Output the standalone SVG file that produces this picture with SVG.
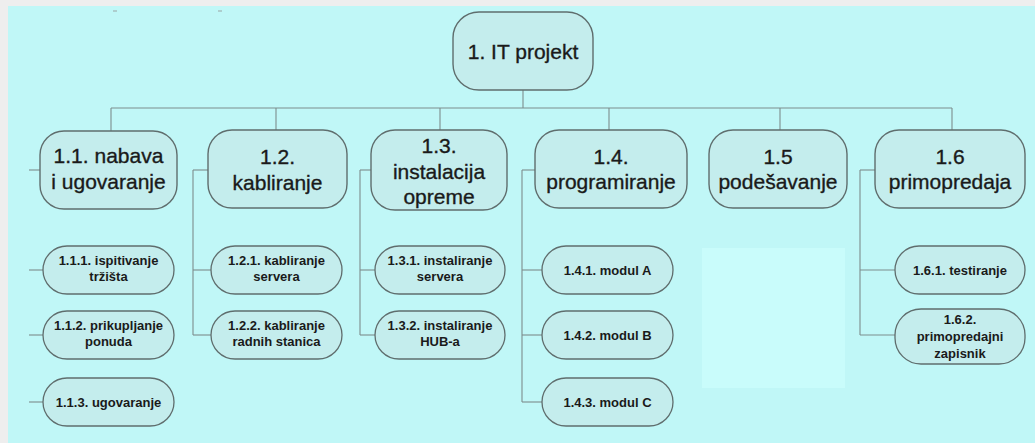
<svg xmlns="http://www.w3.org/2000/svg" width="1035" height="443" viewBox="0 0 1035 443">
<style>
.bg{fill:#eeeeee}
.panel{fill:#c0f7f7}
.patch{fill:#c9fcfb}
.n1 rect{fill:#c4eded;stroke:#5f6d6d;stroke-width:1.4}
.n2 rect{fill:#c4eded;stroke:#5f6d6d;stroke-width:1.3}
.t1{font-family:"Liberation Sans",Arial,sans-serif;font-size:21px;fill:#1a1a1a;stroke:#1a1a1a;stroke-width:0.35;text-anchor:middle}
.t2{font-family:"Liberation Sans",Arial,sans-serif;font-size:13px;font-weight:bold;fill:#1a1a1a;text-anchor:middle}
.conn line{stroke:#7d8d8d;stroke-width:1.1;fill:none}
</style>
<rect class="bg" x="0" y="0" width="1035" height="443"/>
<rect class="panel" x="8" y="6" width="1027" height="437"/>
<rect class="patch" x="702" y="248" width="143" height="140"/>
<line x1="113" y1="11" x2="117" y2="11" stroke="#9aa5a5" stroke-width="1"/>
<line x1="218" y1="11" x2="222" y2="11" stroke="#9aa5a5" stroke-width="1"/>

<g class="conn" id="connectors">
<line x1="523" y1="90" x2="523" y2="108"/>
<line x1="111" y1="108" x2="952" y2="108"/>
<line x1="111" y1="108" x2="111" y2="131"/>
<line x1="276" y1="108" x2="276" y2="130"/>
<line x1="440" y1="108" x2="440" y2="130"/>
<line x1="609" y1="108" x2="609" y2="130"/>
<line x1="780" y1="108" x2="780" y2="130"/>
<line x1="952" y1="108" x2="952" y2="130"/>
<line x1="29" y1="170" x2="40" y2="170"/>
<line x1="29" y1="270" x2="43" y2="270"/>
<line x1="29" y1="335" x2="43" y2="335"/>
<line x1="29" y1="402" x2="43" y2="402"/>
<line x1="193" y1="170" x2="208" y2="170"/>
<line x1="193" y1="170" x2="193" y2="335"/>
<line x1="193" y1="270" x2="211" y2="270"/>
<line x1="193" y1="335" x2="211" y2="335"/>
<line x1="360" y1="170" x2="371" y2="170"/>
<line x1="360" y1="170" x2="360" y2="335"/>
<line x1="360" y1="270" x2="375" y2="270"/>
<line x1="360" y1="335" x2="375" y2="335"/>
<line x1="522" y1="170" x2="535" y2="170"/>
<line x1="522" y1="170" x2="522" y2="402"/>
<line x1="522" y1="270" x2="542" y2="270"/>
<line x1="522" y1="335" x2="542" y2="335"/>
<line x1="522" y1="402" x2="542" y2="402"/>
<line x1="860" y1="170" x2="875" y2="170"/>
<line x1="860" y1="170" x2="860" y2="335"/>
<line x1="860" y1="270" x2="895" y2="270"/>
<line x1="860" y1="335" x2="895" y2="335"/>
</g>

<g class="n1" id="n1"><rect x="453" y="12" width="140" height="78" rx="26"/><text class="t1" x="523" y="59">1. IT projekt</text></g>

<g class="n1" id="n1-1"><rect x="40" y="131" width="137" height="78" rx="24"/><text class="t1" x="108.5" y="163">1.1. nabava</text><text class="t1" x="108.5" y="189">i ugovaranje</text></g>
<g class="n1" id="n1-2"><rect x="208" y="130" width="139" height="78" rx="24"/><text class="t1" x="277.5" y="164">1.2.</text><text class="t1" x="277.5" y="190">kabliranje</text></g>
<g class="n1" id="n1-3"><rect x="371" y="130" width="136" height="80" rx="24"/><text class="t1" x="439" y="153">1.3.</text><text class="t1" x="439" y="179">instalacija</text><text class="t1" x="439" y="204">opreme</text></g>
<g class="n1" id="n1-4"><rect x="535" y="130" width="152" height="78" rx="24"/><text class="t1" x="611" y="164">1.4.</text><text class="t1" x="611" y="189">programiranje</text></g>
<g class="n1" id="n1-5"><rect x="709" y="130" width="138" height="78" rx="24"/><text class="t1" x="778" y="164">1.5</text><text class="t1" x="778" y="189">podešavanje</text></g>
<g class="n1" id="n1-6"><rect x="875" y="130" width="150" height="78" rx="24"/><text class="t1" x="950" y="164">1.6</text><text class="t1" x="950" y="189">primopredaja</text></g>

<g class="n2" id="n1-1-1"><rect x="43" y="246" width="131" height="48" rx="24"/><text class="t2" x="108.5" y="265">1.1.1. ispitivanje</text><text class="t2" x="108.5" y="281">tržišta</text></g>
<g class="n2" id="n1-1-2"><rect x="43" y="311" width="131" height="48" rx="24"/><text class="t2" x="108.5" y="330">1.1.2. prikupljanje</text><text class="t2" x="108.5" y="346">ponuda</text></g>
<g class="n2" id="n1-1-3"><rect x="43" y="378" width="131" height="48" rx="24"/><text class="t2" x="108.5" y="406.5">1.1.3. ugovaranje</text></g>

<g class="n2" id="n1-2-1"><rect x="211" y="246" width="131" height="48" rx="24"/><text class="t2" x="276.5" y="265">1.2.1. kabliranje</text><text class="t2" x="276.5" y="281">servera</text></g>
<g class="n2" id="n1-2-2"><rect x="211" y="311" width="131" height="48" rx="24"/><text class="t2" x="276.5" y="330">1.2.2. kabliranje</text><text class="t2" x="276.5" y="346">radnih stanica</text></g>

<g class="n2" id="n1-3-1"><rect x="375" y="246" width="130" height="48" rx="24"/><text class="t2" x="440" y="265">1.3.1. instaliranje</text><text class="t2" x="440" y="281">servera</text></g>
<g class="n2" id="n1-3-2"><rect x="375" y="311" width="130" height="48" rx="24"/><text class="t2" x="440" y="330">1.3.2. instaliranje</text><text class="t2" x="440" y="346">HUB-a</text></g>

<g class="n2" id="n1-4-1"><rect x="542" y="246" width="131" height="48" rx="24"/><text class="t2" x="607.5" y="274.5">1.4.1. modul A</text></g>
<g class="n2" id="n1-4-2"><rect x="542" y="311" width="131" height="48" rx="24"/><text class="t2" x="607.5" y="339.5">1.4.2. modul B</text></g>
<g class="n2" id="n1-4-3"><rect x="542" y="378" width="131" height="48" rx="24"/><text class="t2" x="607.5" y="406.5">1.4.3. modul C</text></g>

<g class="n2" id="n1-6-1"><rect x="895" y="246" width="130" height="48" rx="24"/><text class="t2" x="960" y="274.5">1.6.1. testiranje</text></g>
<g class="n2" id="n1-6-2"><rect x="895" y="309" width="130" height="55" rx="26"/><text class="t2" x="960" y="324">1.6.2.</text><text class="t2" x="960" y="341">primopredajni</text><text class="t2" x="960" y="358">zapisnik</text></g>
</svg>
